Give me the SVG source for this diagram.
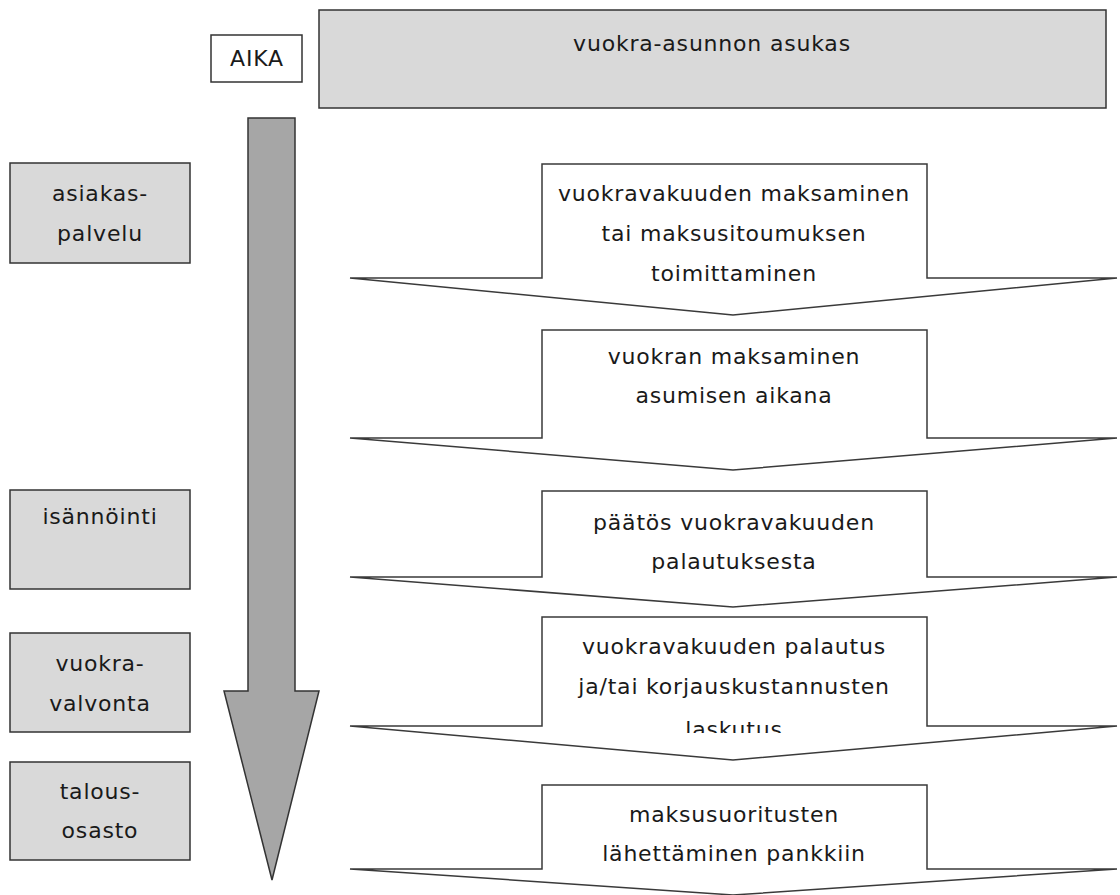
<svg xmlns="http://www.w3.org/2000/svg" width="1120" height="895" viewBox="0 0 1120 895">
<defs>
<style>
.bg{fill:#ffffff}
.grey{fill:#d9d9d9;stroke:#333333;stroke-width:1.5}
.white{fill:#ffffff;stroke:#333333;stroke-width:1.5}
.step{fill:#ffffff;stroke:#3a3a3a;stroke-width:1.5;stroke-linejoin:miter}
.time{fill:#a6a6a6;stroke:#333333;stroke-width:1.5}
text{font-family:"DejaVu Sans","Verdana",sans-serif;font-size:22px;letter-spacing:0.8px;fill:#1a1a1a;text-anchor:middle}
</style>
<clipPath id="clip4"><rect x="542" y="617" width="385" height="116"/></clipPath>
</defs>
<rect class="bg" x="0" y="0" width="1120" height="895"/>

<g id="header">
<rect class="grey" x="319" y="10" width="787" height="98"/>
<text x="712" y="51">vuokra-asunnon asukas</text>
</g>

<g id="aika">
<rect class="white" x="211" y="35" width="91" height="47"/>
<text x="257" y="66">AIKA</text>
</g>

<g id="connectors">
<polygon id="time-arrow" class="time" points="248,118 295,118 295,691 319,691 272,880 224,691 248,691"/>
</g>

<g id="asiakaspalvelu">
<rect class="grey" x="10" y="163" width="180" height="100"/>
<text x="100" y="201">asiakas-</text>
<text x="100" y="241">palvelu</text>
</g>

<g id="isannointi">
<rect class="grey" x="10" y="490" width="180" height="99"/>
<text x="100" y="524">isännöinti</text>
</g>

<g id="vuokravalvonta">
<rect class="grey" x="10" y="633" width="180" height="99"/>
<text x="100" y="671">vuokra-</text>
<text x="100" y="711">valvonta</text>
</g>

<g id="talousosasto">
<rect class="grey" x="10" y="762" width="180" height="98"/>
<text x="100" y="799">talous-</text>
<text x="100" y="838">osasto</text>
</g>

<g id="step1">
<polygon class="step" points="350,278 542,278 542,164 927,164 927,278 1117,278 733,315"/>
<text x="734" y="201">vuokravakuuden maksaminen</text>
<text x="734" y="241">tai maksusitoumuksen</text>
<text x="734" y="281">toimittaminen</text>
</g>

<g id="step2">
<polygon class="step" points="350,438 542,438 542,330 927,330 927,438 1117,438 733,470"/>
<text x="734" y="364">vuokran maksaminen</text>
<text x="734" y="403">asumisen aikana</text>
</g>

<g id="step3">
<polygon class="step" points="350,577 542,577 542,491 927,491 927,577 1117,577 733,607"/>
<text x="734" y="530">päätös vuokravakuuden</text>
<text x="734" y="569">palautuksesta</text>
</g>

<g id="step4">
<polygon class="step" points="350,726 542,726 542,617 927,617 927,726 1117,726 733,760"/>
<g clip-path="url(#clip4)">
<text x="734" y="654">vuokravakuuden palautus</text>
<text x="734" y="694">ja/tai korjauskustannusten</text>
<text x="734" y="737">laskutus</text>
</g>
</g>

<g id="step5">
<polygon class="step" points="350,869 542,869 542,785 927,785 927,869 1117,869 733,895"/>
<text x="734" y="822">maksusuoritusten</text>
<text x="734" y="861">lähettäminen pankkiin</text>
</g>
</svg>
